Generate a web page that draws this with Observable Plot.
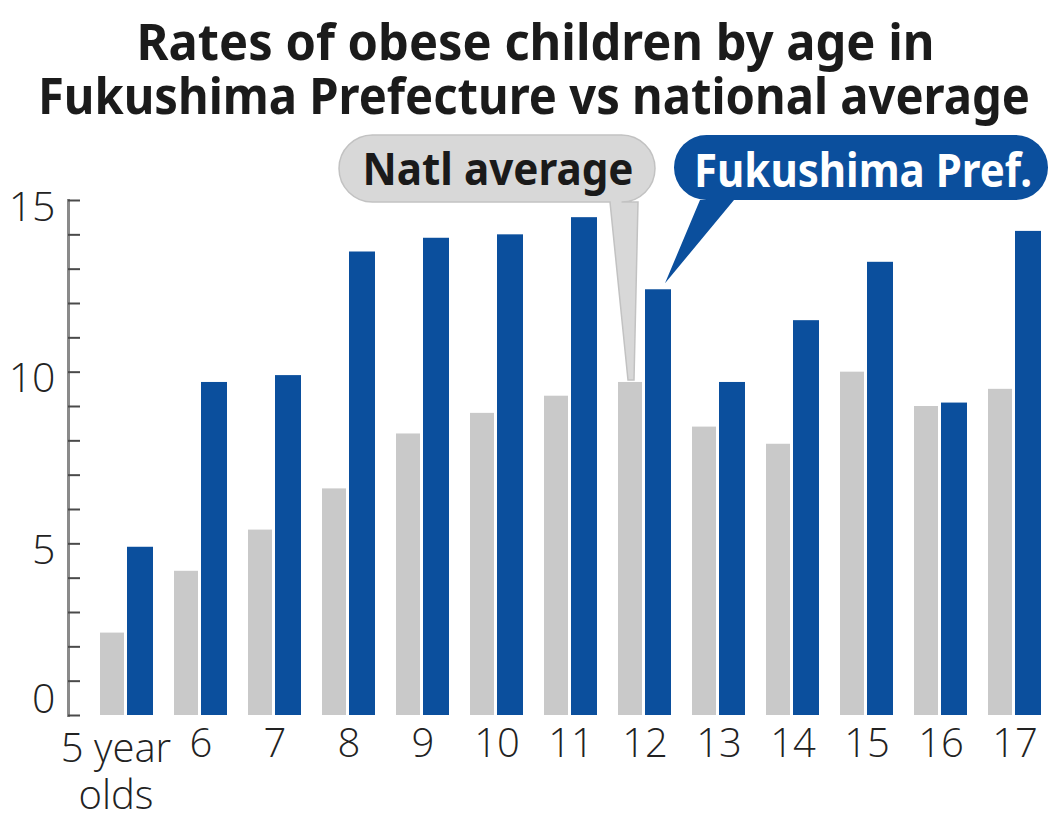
<!DOCTYPE html>
<html>
<head>
<meta charset="utf-8">
<script src="https://cdn.jsdelivr.net/npm/d3@7"></script>
<script src="https://cdn.jsdelivr.net/npm/@observablehq/plot@0.6"></script>
<style>
  body { margin: 0; background: #fff; width: 1052px; }
  .title {
    height: 130px; box-sizing: border-box; padding-top: 14px;
    font-family: "Noto Sans", sans-serif; font-weight: 700;
    font-size: 50px; color: #1b1b1b;
  }
  .title .line { display: flex; justify-content: center; height: 54px; line-height: 54px; }
  .title span { flex: none; white-space: nowrap; transform-origin: 50% 50%; }
  #chart svg { display: block; }
</style>
</head>
<body>
<div class="title">
  <div class="line"><span data-w="798" data-dx="10">Rates of obese children by age in</span></div>
  <div class="line"><span data-w="992" data-dx="8">Fukushima Prefecture vs national average</span></div>
</div>
<div id="chart"></div>
<script>
// Ages (school years) and their axis labels
const ages = ["5", "6", "7", "8", "9", "10", "11", "12", "13", "14", "15", "16", "17"];
const ageLabels = ["5 year\nolds", "6", "7", "8", "9", "10", "11", "12", "13", "14", "15", "16", "17"];

// Share of obese children (%), national average vs Fukushima Prefecture
const national  = [2.4, 4.2, 5.4, 6.6, 8.2, 8.8, 9.3, 9.7, 8.4, 7.9, 10.0, 9.0, 9.5];
const fukushima = [4.9, 9.7, 9.9, 13.5, 13.9, 14.0, 14.5, 12.4, 9.7, 11.5, 13.2, 9.1, 14.1];

// Series names shown in the callouts, and the age they point at
const seriesNames = ["Natl average", "Fukushima Pref."];
const calloutAge = "12";

// Y axis ticks: minor every unit, labels every 5
const yMinorTicks = d3.range(0, 16);
const yMajorTicks = [5, 10, 15];
const yZeroTick = [0];

const grayFill = "#c9c9c9";
const blueFill = "#0b4f9d";

// Condense the title lines to their set widths
document.querySelectorAll(".title span").forEach(s => {
  const w = s.getBoundingClientRect().width;
  s.style.transform = `translateX(${s.dataset.dx}px) scaleX(${(+s.dataset.w / w).toFixed(4)})`;
});

const rows = ages.map((age, i) => ({age, natl: national[i], fuku: fukushima[i]}));
const ci = ages.indexOf(calloutAge);

// Speech-bubble callouts naming the two series, pointing at the chosen age's bars
function callouts(index, scales) {
  const {x, y} = scales;
  const x0 = x(calloutAge);
  const g = d3.create("svg:g");
  const top = 5;

  // national average (gray) bubble
  const gL = x0 - 279, gR = x0 + 37, gB = 72, gr = (gB - top) / 2;
  const gTipX = x0 + 13, gTipY = y(national[ci]) - 2;
  g.append("path")
    .attr("d", `M${gL + gr},${top} H${gR - gr} A${gr},${gr} 0 0 1 ${gR - gr},${gB}
      H${x0 + 20} L${gTipX + 3},${gTipY} L${gTipX - 3},${gTipY} L${x0 - 8},${gB}
      H${gL + gr} A${gr},${gr} 0 0 1 ${gL + gr},${top} Z`)
    .attr("fill", "#d8d8d8").attr("stroke", "#c2c2c2").attr("stroke-width", 1.5);
  g.append("text")
    .attr("x", (gL + gR) / 2 + 1).attr("y", 55)
    .attr("text-anchor", "middle").attr("textLength", 271).attr("lengthAdjust", "spacingAndGlyphs")
    .attr("font-family", '"Noto Sans", sans-serif').attr("font-weight", 700).attr("font-size", 45)
    .attr("fill", "#1a1a1a").text(seriesNames[0]);

  // Fukushima (blue) bubble
  const bL = x0 + 56, bR = x0 + 430, bB = 70, br = (bB - top) / 2;
  const bTipX = x0 + 47, bTipY = y(fukushima[ci]) - 6;
  g.append("path")
    .attr("d", `M${bL + br},${top} H${bR - br} A${br},${br} 0 0 1 ${bR - br},${bB}
      H${x0 + 116} L${bTipX},${bTipY} L${x0 + 82},${bB}
      H${bL + br} A${br},${br} 0 0 1 ${bL + br},${top} Z`)
    .attr("fill", blueFill);
  g.append("text")
    .attr("x", (bL + bR) / 2 + 2).attr("y", 57)
    .attr("text-anchor", "middle").attr("textLength", 338).attr("lengthAdjust", "spacingAndGlyphs")
    .attr("font-family", '"Noto Sans", sans-serif').attr("font-weight", 700).attr("font-size", 47)
    .attr("fill", "#fff").text(seriesNames[1]);
  return g.node();
}

const labelFormat = d => ageLabels[ages.indexOf(d)];

const chart = Plot.plot({
  width: 1052,
  height: 687,
  marginTop: 70,
  marginBottom: 102,
  marginLeft: 68,
  marginRight: 4,
  style: {fontFamily: '"Open Sans", "Noto Sans", sans-serif', background: "#fff", color: "#222"},
  x: {domain: ages, type: "band", paddingInner: 0.287, paddingOuter: 0.2355, align: 0.814, axis: null},
  y: {domain: [0, 15], axis: null},
  marks: [
    Plot.barY(rows, {x: "age", y: "natl", fill: grayFill, insetRight: 29}),
    Plot.barY(rows, {x: "age", y: "fuku", fill: blueFill, insetLeft: 27}),
    // axis line with inward minor ticks
    Plot.frame({anchor: "left", stroke: "#8a8a8a", strokeWidth: 3}),
    Plot.axisY({ticks: yMinorTicks, tickSize: 12, dx: 12, tickFormat: () => "", stroke: "#4a4a4a", strokeWidth: 2, label: null}),
    Plot.axisY({ticks: yMajorTicks, tickSize: 0, tickPadding: 13, dy: 7, fontSize: 41, fontWeight: 300, label: null}),
    Plot.axisY({ticks: yZeroTick, tickSize: 0, tickPadding: 13, dy: -16, fontSize: 41, fontWeight: 300, label: null}),
    Plot.axisX({ticks: ages.slice(0, 1), tickSize: 0, tickPadding: 13, dx: -11, tickFormat: labelFormat, fontSize: 40, fontWeight: 300, lineHeight: 1.17, label: null}),
    Plot.axisX({ticks: ages.slice(1), tickSize: 0, tickPadding: 13, tickFormat: labelFormat, fontSize: 40, fontWeight: 300, label: null}),
    callouts
  ]
});

document.getElementById("chart").append(chart);
</script>
</body>
</html>
